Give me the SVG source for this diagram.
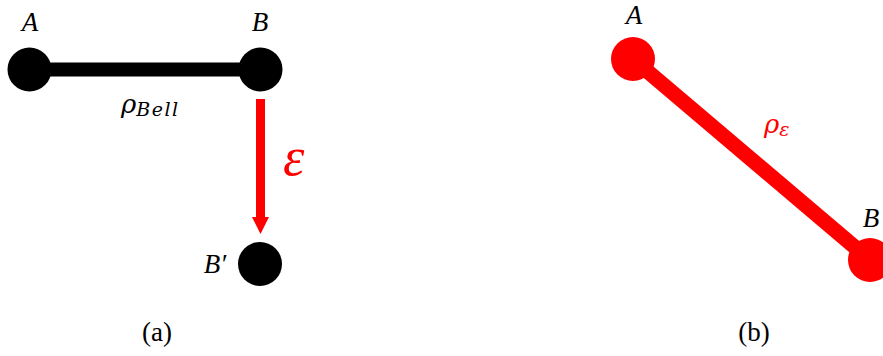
<svg xmlns="http://www.w3.org/2000/svg" width="883" height="356" viewBox="0 0 883 356">
<style>
.lbl{font-family:"Liberation Serif","DejaVu Serif",serif;font-style:italic;font-size:27px;fill:#000;text-anchor:middle}
.rho{font-family:"DejaVu Serif","Liberation Serif",serif;font-style:italic;font-size:26px}
.sub{font-family:"DejaVu Serif","Liberation Serif",serif;font-style:italic;font-size:19px}
.cap{font-family:"Liberation Serif","DejaVu Serif",serif;font-size:27px;fill:#000;text-anchor:middle}
.blk{fill:#000}
.red{fill:#ff0000}
</style>
<defs>
<marker id="ah" viewBox="0 0 18 17" refX="0" refY="8.5" markerWidth="18" markerHeight="17" markerUnits="userSpaceOnUse" orient="auto">
<path d="M0,0 L17,8.5 L0,17 Z" fill="#ff0000"/>
</marker>
</defs>
<g id="connectors">
<line x1="30" y1="69.5" x2="260" y2="69.5" stroke="#000" stroke-width="14"/>
<line x1="260.5" y1="99" x2="260.5" y2="217" stroke="#ff0000" stroke-width="9" marker-end="url(#ah)"/>
<line x1="633" y1="59" x2="870" y2="260" stroke="#ff0000" stroke-width="15"/>
<text class="rho" x="121" y="113">ρ<tspan class="sub" dy="3" letter-spacing="1.5">Bell</tspan></text>
<text x="283" y="175" font-family="Liberation Serif,DejaVu Serif,serif" font-style="italic" font-size="54" fill="#ff0000">ε</text>
<text class="rho" x="764" y="133" fill="#ff0000">ρ<tspan class="sub" dy="3">ε</tspan></text>
</g>
<g id="nodeA1">
<circle class="blk" cx="29.5" cy="69.5" r="22"/>
<text class="lbl" x="30" y="31">A</text>
</g>
<g id="nodeB1">
<circle class="blk" cx="260.5" cy="69.5" r="22"/>
<text class="lbl" x="260" y="31">B</text>
</g>
<g id="nodeBp">
<circle class="blk" cx="260" cy="264" r="22"/>
<text class="lbl" x="215" y="273">B′</text>
</g>
<g id="nodeA2">
<circle class="red" cx="633" cy="59" r="22"/>
<text class="lbl" x="634" y="24">A</text>
</g>
<g id="nodeB2">
<circle class="red" cx="870" cy="260" r="22"/>
<text class="lbl" x="871" y="227">B</text>
</g>
<text class="cap" x="157" y="341">(a)</text>
<text class="cap" x="754" y="341">(b)</text>
</svg>
